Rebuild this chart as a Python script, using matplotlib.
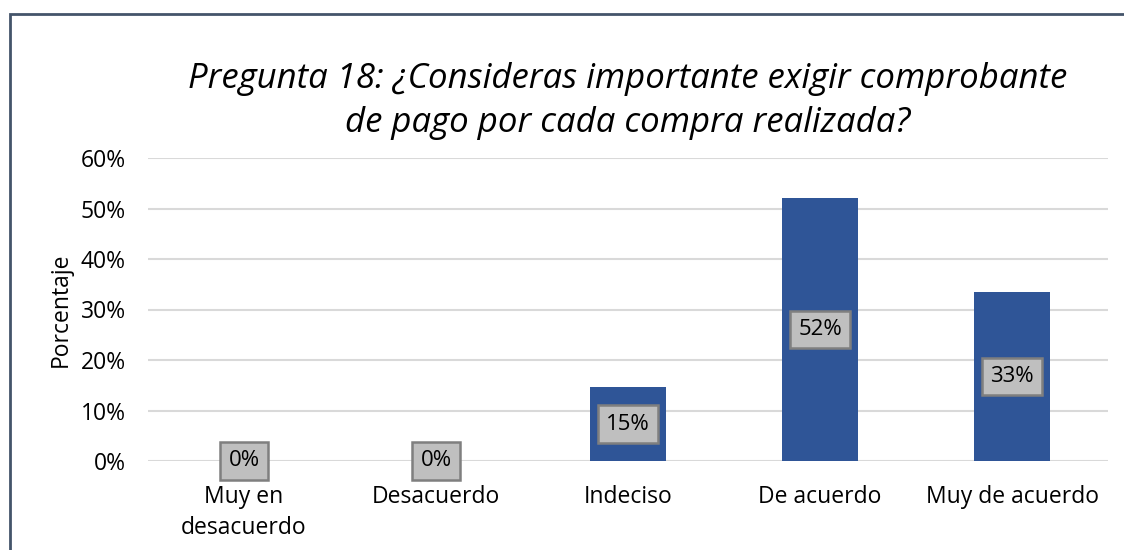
import matplotlib
matplotlib.use("Agg")
import matplotlib.pyplot as plt
from matplotlib.patches import Rectangle
from matplotlib.ticker import PercentFormatter

categories = ["Muy en\ndesacuerdo", "Desacuerdo", "Indeciso", "De acuerdo", "Muy de acuerdo"]
values = [0.0, 0.0, 14.65, 52.1, 33.45]
labels = ["0%", "0%", "15%", "52%", "33%"]
yticks = [0, 10, 20, 30, 40, 50, 60]

plt.rcParams['font.family'] = ['Open Sans', 'DejaVu Sans']

fig = plt.figure(figsize=(11.24, 5.5), dpi=100)
ax = fig.add_axes([148/1124, 1-461/550, (1108-148)/1124, (461-158)/550])

x = list(range(len(categories)))
ax.bar(x, values, width=0.4, color="#2F5597", zorder=3)
ax.set_xlim(-0.5, len(categories)-0.5)
ax.set_ylim(0, 60)
ax.set_yticks(yticks)
ax.yaxis.set_major_formatter(PercentFormatter(decimals=0))
ax.grid(axis='y', color="#D9D9D9", linewidth=1.5, zorder=0)
for s in ax.spines.values():
    s.set_visible(False)
ax.tick_params(axis='both', length=0, labelsize=16.5, colors="#000000")
ax.tick_params(axis='y', pad=16)
ax.tick_params(axis='x', pad=17)
ax.set_xticks(x)
ax.set_xticklabels(categories, linespacing=1.4)
ax.set_ylabel("Porcentaje", fontsize=16.5, labelpad=6)

for xi, v, lab in zip(x, values, labels):
    ax.text(xi, v/2, lab, ha='center', va='center', fontsize=16, zorder=5,
            bbox=dict(boxstyle='square,pad=0.38', facecolor="#BFBFBF", edgecolor="#7F7F7F", linewidth=1.8))

fig.text(628/1124, 1-101/550, "Pregunta 18: ¿Consideras importante exigir comprobante\nde pago por cada compra realizada?",
         ha='center', va='center', fontsize=25, style='italic', linespacing=1.35)

fig.patches.append(Rectangle((10/1124, -0.1), 1.2, 1-14/550+0.1, transform=fig.transFigure,
                             fill=False, edgecolor="#44546A", linewidth=2, zorder=10))

fig.savefig("out.png", dpi=100)
